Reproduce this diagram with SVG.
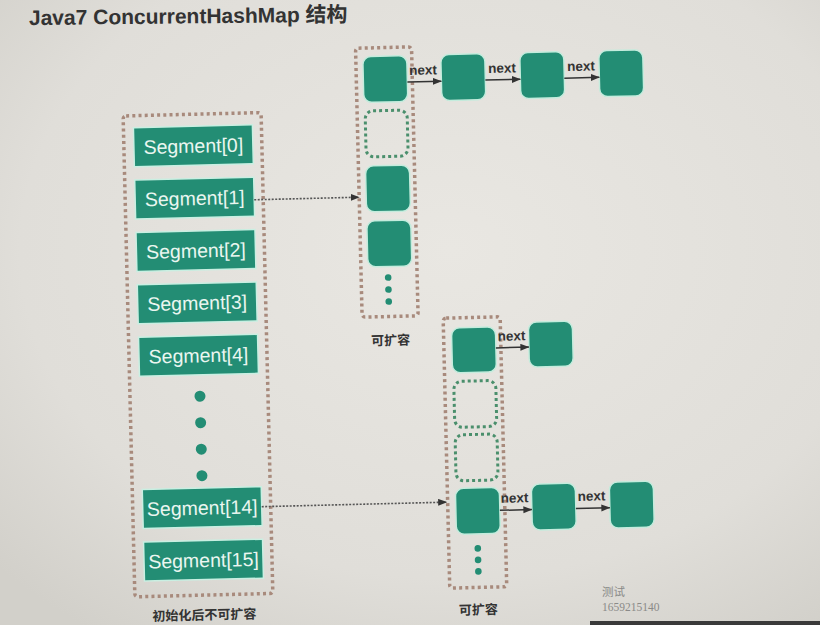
<svg xmlns="http://www.w3.org/2000/svg" width="820" height="625" viewBox="0 0 820 625">
<defs>
<radialGradient id="bg" cx="0.55" cy="0.4" r="0.75">
<stop offset="0" stop-color="#e9e7e2"/>
<stop offset="0.7" stop-color="#e0ded9"/>
<stop offset="1" stop-color="#d2d0ca"/>
</radialGradient>
<marker id="ah" markerUnits="userSpaceOnUse" markerWidth="9" markerHeight="8" refX="8.5" refY="3.5" orient="auto">
<path d="M0,0 L9,3.5 L0,7 z" fill="#333"/>
</marker>
</defs>
<style>
.outer{fill:none;stroke:#a88a7c;stroke-width:3.5;stroke-dasharray:3 3.2}
.empty{fill:none;stroke:#4a8f6c;stroke-width:3;stroke-dasharray:3 3}
.node{fill:#238d74;stroke:#c4ecdd;stroke-width:1.5}
.seg{fill:#238d74;stroke:#c9efe2;stroke-width:1.5}
.segt{font-family:"Liberation Sans",Arial,sans-serif;font-size:19.5px;fill:#eaf6f0;text-anchor:middle}
.dot{fill:#238d74}
.next{font-family:"Liberation Sans",Arial,sans-serif;font-size:13.5px;font-weight:bold;fill:#333}
.lbl{font-family:"Noto Sans CJK SC",sans-serif;font-size:13px;font-weight:bold;fill:#333;text-anchor:middle}
.link{stroke:#333;stroke-width:1.5;fill:none}
.dotted{stroke:#555;stroke-width:1.6;stroke-dasharray:2 1.5;fill:none}
</style>
<rect x="0" y="0" width="820" height="625" fill="url(#bg)"/>
<rect x="590" y="621" width="230" height="4" fill="#3a3a3a"/>
<text x="29" y="25" transform="rotate(-0.6 29 25)" font-family="Liberation Sans,Arial,Noto Sans CJK SC,sans-serif" font-size="21" font-weight="bold" fill="#333">Java7 ConcurrentHashMap 结构</text>
<g transform="rotate(-1.4 410 312)">

<g id="segments">
<rect class="outer" x="128" y="109" width="138" height="481" rx="3"/>
<text class="lbl" x="197" y="614.5">初始化后不可扩容</text>
</g>
<g id="seg0"><rect class="seg" x="138" y="121" width="119" height="39"/><text class="segt" x="197.5" y="147.5">Segment[0]</text></g>
<g id="seg1"><rect class="seg" x="138" y="173.4" width="119" height="39"/><text class="segt" x="197.5" y="199.9">Segment[1]</text></g>
<g id="seg2"><rect class="seg" x="138" y="225.8" width="119" height="39"/><text class="segt" x="197.5" y="252.3">Segment[2]</text></g>
<g id="seg3"><rect class="seg" x="138" y="278.2" width="119" height="39"/><text class="segt" x="197.5" y="304.7">Segment[3]</text></g>
<g id="seg4"><rect class="seg" x="138" y="330.6" width="119" height="39"/><text class="segt" x="197.5" y="357.1">Segment[4]</text></g>
<g id="segdots">
<circle class="dot" cx="198" cy="391" r="5.5"/>
<circle class="dot" cx="198" cy="417.5" r="5.5"/>
<circle class="dot" cx="198" cy="444" r="5.5"/>
<circle class="dot" cx="198" cy="470.5" r="5.5"/>
</g>
<g id="seg14"><rect class="seg" x="138" y="483" width="119" height="39"/><text class="segt" x="197.5" y="509.5">Segment[14]</text></g>
<g id="seg15"><rect class="seg" x="138" y="535.5" width="119" height="39"/><text class="segt" x="197.5" y="562">Segment[15]</text></g>

<g id="table1">
<rect class="outer" x="362" y="47" width="56" height="269" rx="3"/>
<rect class="node" x="369" y="55.5" width="44" height="46" rx="8"/>
<rect class="empty" x="370" y="110" width="42" height="46" rx="8"/>
<rect class="node" x="369" y="165" width="44" height="46" rx="8"/>
<rect class="node" x="369" y="220" width="44" height="46" rx="8"/>
<circle class="dot" cx="389" cy="277" r="3.3"/>
<circle class="dot" cx="389" cy="289" r="3.3"/>
<circle class="dot" cx="389" cy="301" r="3.3"/>
<text class="lbl" x="390" y="344.5">可扩容</text>
</g>
<g id="t1n1"><rect class="node" x="447" y="55.5" width="44" height="46" rx="8"/></g>
<g id="t1n2"><rect class="node" x="526" y="55.5" width="44" height="46" rx="8"/></g>
<g id="t1n3"><rect class="node" x="605" y="55.5" width="44" height="46" rx="8"/></g>

<g id="table2">
<rect class="outer" x="443" y="319" width="57" height="270" rx="3"/>
<rect class="node" x="451" y="329" width="44" height="45" rx="8"/>
<rect class="empty" x="452" y="382.5" width="42" height="46" rx="8"/>
<rect class="empty" x="452" y="436" width="42" height="46" rx="8"/>
<rect class="node" x="451" y="489.5" width="44" height="46" rx="8"/>
<circle class="dot" cx="472" cy="550" r="3.3"/>
<circle class="dot" cx="472" cy="561.5" r="3.3"/>
<circle class="dot" cx="472" cy="573" r="3.3"/>
<text class="lbl" x="471" y="616">可扩容</text>
</g>
<g id="t2n1"><rect class="node" x="528" y="325" width="44" height="45" rx="8"/></g>
<g id="t2n2"><rect class="node" x="527" y="487" width="44" height="46" rx="8"/></g>
<g id="t2n3"><rect class="node" x="605" y="487" width="44" height="46" rx="8"/></g>

<g id="connectors">
<line class="dotted" x1="257" y1="196" x2="362" y2="196" marker-end="url(#ah)"/>
<line class="dotted" x1="257" y1="503" x2="442" y2="503" marker-end="url(#ah)"/>
<line class="link" x1="413" y1="82" x2="447" y2="82" marker-end="url(#ah)"/>
<line class="link" x1="491" y1="82" x2="526" y2="82" marker-end="url(#ah)"/>
<line class="link" x1="570" y1="82" x2="605" y2="82" marker-end="url(#ah)"/>
<line class="link" x1="495" y1="350" x2="528" y2="350" marker-end="url(#ah)"/>
<line class="link" x1="495" y1="512.5" x2="527" y2="512.5" marker-end="url(#ah)"/>
<line class="link" x1="571" y1="512.5" x2="605" y2="512.5" marker-end="url(#ah)"/>
<text class="next" x="415" y="75">next</text>
<text class="next" x="494" y="75">next</text>
<text class="next" x="573" y="75">next</text>
<text class="next" x="497" y="343">next</text>
<text class="next" x="496" y="505">next</text>
<text class="next" x="573" y="505">next</text>
</g>
</g>
<text x="602" y="596" font-family="Liberation Serif,Noto Sans CJK SC,serif" font-size="11.5" fill="#8a8a88">测试</text>
<text x="602" y="611" font-family="Liberation Serif,serif" font-size="11.5" fill="#8a8a88">1659215140</text>
</svg>
